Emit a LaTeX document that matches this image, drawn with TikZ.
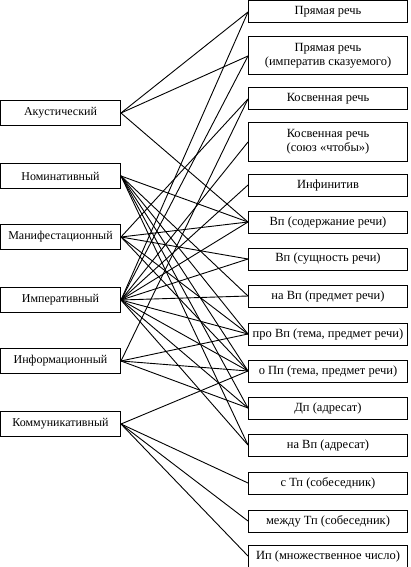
\documentclass[tikz,border=0pt]{standalone}
\usepackage{fontspec}
\setmainfont{Liberation Serif}
\tikzset{
    kind box/.style={draw, line width=1pt, minimum width=120pt, minimum height=25pt, inner sep=1pt, font=\fontsize{12}{13}\selectfont},
    form box/.style={draw, line width=1pt, minimum width=159pt, minimum height=22pt, inner sep=1pt, align=center, font=\fontsize{12.5}{14}\selectfont},
    tall box/.style={form box, minimum height=38pt},
    link/.style={line width=0.9pt},
}

\begin{document}
\begin{tikzpicture}[x=1pt, y=-1pt]
    \useasboundingbox (0,0) rectangle (410,567);
    % kinds of verbs
    \foreach \name/\y/\txt in {ak/113/Акустический, nom/176/Номинативный, man/237/Манифестационный,
                               imp/300/Императивный, inf/361/Информационный, com/424/Коммуникативный} {
        \node[kind box] (\name) at (60.5,\y) {\txt};
    }
    % forms
    \foreach \name/\y/\txt in {r1/12/{Прямая речь}, r3/99/{Косвенная речь}, r5/185/{Инфинитив},
                               r6/222/{Вп (содержание речи)}, r7/259/{Вп (сущность речи)},
                               r8/296/{на Вп (предмет речи)}, r9/334/{про Вп (тема, предмет речи)},
                               r10/371/{о Пп (тема, предмет речи)}, r11/408/{Дп (адресат)},
                               r12/445/{на Вп (адресат)}, r13/483/{с Тп (собеседник)},
                               r14/521/{между Тп (собеседник)}, r15/556/{Ип (множественное число)}} {
        \node[form box] (\name) at (328,\y) {\txt};
    }
    \node[tall box] (r2) at (328,56) {Прямая речь\\(императив сказуемого)};
    \node[tall box] (r4) at (328,142) {Косвенная речь\\(союз «чтобы»)};
    % links
    \foreach \src/\dst in {ak/r1, ak/r2, ak/r6,
                           nom/r6, nom/r8, nom/r9, nom/r10, nom/r11, nom/r12,
                           man/r3, man/r6, man/r7, man/r9, man/r10,
                           imp/r1, imp/r2, imp/r4, imp/r5, imp/r6, imp/r7, imp/r8, imp/r9, imp/r10, imp/r11, imp/r12,
                           inf/r3, inf/r9, inf/r10, inf/r11,
                           com/r10, com/r13, com/r14, com/r15} {
        \draw[link] (\src.east) -- (\dst.west);
    }
\end{tikzpicture}
\end{document}
